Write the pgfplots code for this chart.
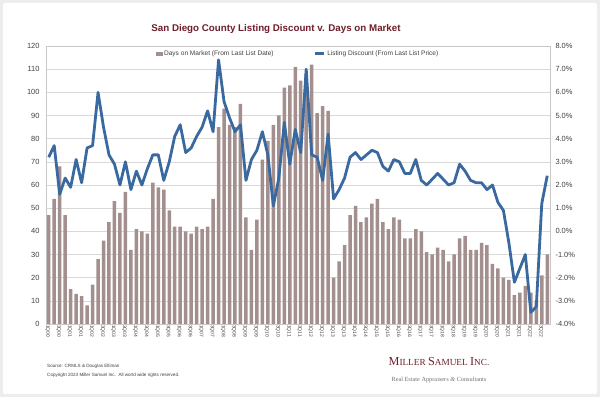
\documentclass[border=0pt]{standalone}
\usepackage{pgfplots}
\pgfplotsset{compat=1.18}
\usepackage{pgfplotstable}
\usepackage{fontspec}
\setmainfont{Liberation Sans}
\newfontfamily\seriffont{Liberation Serif}
\definecolor{barc}{HTML}{A38F8E}
\definecolor{linec}{HTML}{3A69A0}
\definecolor{titlec}{HTML}{6E1F2B}
\definecolor{gridc}{HTML}{D9D9D9}
\definecolor{axisc}{HTML}{C8C8C8}
\definecolor{bgc}{HTML}{EDEDED}
\definecolor{labc}{HTML}{404040}

\pgfplotstableread{
x y
0 47
1 54
2 68
3 47
4 15
5 13
6 12
7 8
8 17
9 28
10 36
11 44
12 53
13 48
14 57
15 32
16 41
17 40
18 39
19 61
20 59
21 58
22 49
23 42
24 42
25 40
26 39
27 42
28 41
29 42
30 54
31 85
32 93
33 86
34 85
35 95
36 46
37 32
38 45
39 71
40 79
41 86
42 90
43 102
44 103
45 111
46 105
47 108
48 112
49 91
50 94
51 92
52 20
53 27
54 34
55 47
56 51
57 44
58 46
59 52
60 54
61 44
62 41
63 46
64 45
65 37
66 37
67 41
68 40
69 31
70 30
71 33
72 32
73 27
74 30
75 37
76 38
77 32
78 32
79 35
80 34
81 26
82 24
83 20
84 19
85 12.5
86 13.5
87 16.5
88 13.5
89 10
90 21
91 30
}\dom

\pgfplotstableread{
x y
0 3.2
1 3.7
2 1.6
3 2.3
4 1.9
5 3.1
6 2.1
7 3.6
8 3.7
9 6.0
10 4.5
11 3.3
12 2.9
13 2.0
14 3.0
15 1.8
16 2.6
17 2.0
18 2.7
19 3.3
20 3.3
21 2.2
22 3.0
23 4.1
24 4.6
25 3.4
26 3.6
27 4.1
28 4.5
29 5.2
30 4.3
31 7.4
32 5.6
33 4.9
34 4.3
35 4.6
36 2.2
37 3.1
38 3.5
39 4.3
40 3.3
41 1.1
42 2.3
43 4.7
44 2.9
45 4.4
46 3.4
47 7.0
48 3.3
49 3.2
50 2.2
51 4.2
52 1.4
53 1.8
54 2.3
55 3.2
56 3.4
57 3.1
58 3.3
59 3.5
60 3.4
61 2.8
62 2.6
63 3.1
64 3.0
65 2.5
66 2.5
67 3.1
68 2.2
69 2.0
70 2.25
71 2.5
72 2.25
73 2.0
74 2.1
75 2.9
76 2.6
77 2.2
78 2.1
79 2.1
80 1.8
81 2.0
82 1.25
83 0.9
84 -0.5
85 -2.2
86 -1.6
87 -1.0
88 -3.5
89 -3.25
90 1.2
91 2.4
}\disc

\begin{document}
\begin{tikzpicture}
\path[use as bounding box] (0bp,0bp) rectangle (600bp,397bp);
\fill[bgc] (0bp,0bp) rectangle (600bp,397bp);
\fill[white, rounded corners=2bp] (3bp,3bp) rectangle (597bp,394bp);

\begin{axis}[
  at={(46bp,73bp)}, anchor=south west,
  width=504bp, height=278bp, scale only axis,
  xmin=-0.5, xmax=91.5, ymin=0, ymax=120,
  ytick={0,10,...,120},
  xtick={0,2,...,90},
  xticklabels={1Q00,3Q00,1Q01,3Q01,1Q02,3Q02,1Q03,3Q03,1Q04,3Q04,1Q05,3Q05,1Q06,3Q06,1Q07,3Q07,1Q08,3Q08,1Q09,3Q09,1Q10,3Q10,1Q11,3Q11,1Q12,3Q12,1Q13,3Q13,1Q14,3Q14,1Q15,3Q15,1Q16,3Q16,1Q17,3Q17,1Q18,3Q18,1Q19,3Q19,1Q20,3Q20,1Q21,3Q21,1Q22,3Q22},
  major tick length=0pt,
  ymajorgrids, grid style={gridc, line width=0.6bp},
  axis line style={axisc, line width=0.6bp},
  /pgf/number format/assume math mode=true,
  yticklabel style={font=\fontsize{7.5}{8}\selectfont, text=labc, xshift=-3bp},
  x tick label style={rotate=-90, anchor=west, font=\fontsize{5}{5}\selectfont, text=labc, inner sep=1bp, yshift=-1bp},
]
\addplot[ybar, bar width=3.5bp, fill=barc, draw=none] table[x=x,y=y] {\dom};
\end{axis}

\begin{axis}[
  at={(46bp,73bp)}, anchor=south west,
  width=504bp, height=278bp, scale only axis,
  xmin=-0.5, xmax=91.5, ymin=-4, ymax=8,
  axis x line=none, axis y line*=right,
  y axis line style={draw=none},
  ytick={-4,-3,...,8},
  major tick length=0pt,
  /pgf/number format/assume math mode=true,
  yticklabel={\pgfmathprintnumber[fixed,fixed zerofill,precision=1]{\tick}\%},
  yticklabel style={font=\fontsize{7.5}{8}\selectfont, text=labc, xshift=2bp},
  legend columns=2,
  legend style={at={(0.5,0.995)}, anchor=north, draw=none, fill=none,
    font=\fontsize{6.6}{7}\selectfont, text=labc, inner sep=1bp,
    /tikz/every even column/.append style={column sep=38bp}},
  legend cell align=left,
]
\addlegendimage{legend image code/.code={\fill[barc] (0bp,-1.5bp) rectangle (6bp,1.5bp);}}
\addlegendentry{Days on Market (From Last List Date)}
\addplot[linec, line width=2.8bp, line join=round, mark=none,
  legend image code/.code={\draw[linec, line width=2.6bp] (0bp,0bp) -- (9bp,0bp);}]
  table[x=x,y=y] {\disc};
\addlegendentry{Listing Discount (From Last List Price)}
\end{axis}

\node[font=\bfseries\fontsize{9.8}{11}\selectfont, text=titlec] at (276bp,368bp)
  {San Diego County Listing Discount v. Days on Market};

\node[anchor=west, font=\fontsize{4.6}{5}\selectfont, text=labc, inner sep=0pt] at (47bp,31bp)
  {Source: CRMLS \& Douglas Elliman};
\node[anchor=west, font=\fontsize{4.6}{5}\selectfont, text=labc, inner sep=0pt] at (47bp,22bp)
  {Copyright 2023 Miller Samuel Inc.\ \ All world wide rights reserved.};

\node[font=\seriffont, text=titlec, inner sep=0pt] at (439bp,35bp)
  {{\fontsize{12.3}{12}\selectfont M}{\fontsize{9.3}{12}\selectfont ILLER }{\fontsize{12.3}{12}\selectfont S}{\fontsize{9.3}{12}\selectfont AMUEL }{\fontsize{12.3}{12}\selectfont I}{\fontsize{9.3}{12}\selectfont NC.}};
\node[font=\seriffont\fontsize{6.3}{7}\selectfont, text=black!55, inner sep=0pt] at (439bp,17bp)
  {Real Estate Appraisers \textit{\&} Consultants};
\end{tikzpicture}
\end{document}
